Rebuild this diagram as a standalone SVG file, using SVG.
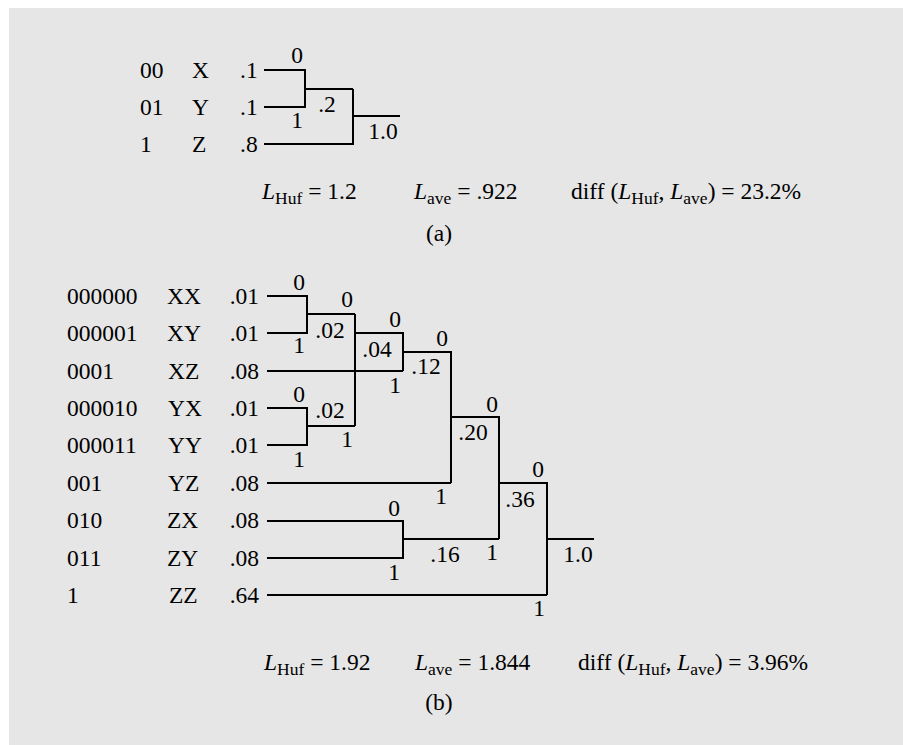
<svg xmlns="http://www.w3.org/2000/svg" width="903" height="745" viewBox="0 0 903 745">
<style>
text{font-family:"Liberation Serif","Times New Roman",serif;font-size:23.5px;fill:#000}
.m{text-anchor:middle}
.e{text-anchor:end}
.sub{font-size:17.5px}
.it{font-style:italic}
.c{fill:none;stroke:#000;stroke-width:2}
</style>
<rect x="9" y="8" width="894" height="737" fill="#e6e6e6"/>
<g id="partA">
<g id="a-leaves">
<g id="a-X"><text x="140" y="78">00</text><text x="192" y="78">X</text><text x="240" y="78">.1</text></g>
<g id="a-Y"><text x="140" y="115">01</text><text x="192" y="115">Y</text><text x="240" y="115">.1</text></g>
<g id="a-Z"><text x="140" y="152">1</text><text x="192" y="152">Z</text><text x="240" y="152">.8</text></g>
</g>
<g id="a-connectors" class="c">
<polyline points="264,70 305,70 305,107 264,107"/>
<path d="M305 89H353M264 144H353V89M353 116H400"/>
</g>
<g id="a-labels">
<text class="m" x="297" y="63">0</text>
<text class="m" x="297" y="128">1</text>
<text class="m" x="327" y="112">.2</text>
<text class="m" x="383" y="139">1.0</text>
</g>
<g id="a-eq">
<text x="262" y="199"><tspan class="it">L</tspan><tspan class="sub" dy="5">Huf</tspan><tspan dy="-5"> = 1.2</tspan></text>
<text x="414" y="199"><tspan class="it">L</tspan><tspan class="sub" dy="5">ave</tspan><tspan dy="-5"> = .922</tspan></text>
<text x="571" y="199">diff (<tspan class="it">L</tspan><tspan class="sub" dy="5">Huf</tspan><tspan dy="-5">, </tspan><tspan class="it">L</tspan><tspan class="sub" dy="5">ave</tspan><tspan dy="-5">) = 23.2%</tspan></text>
<text class="m" x="439" y="241">(a)</text>
</g>
</g>
<g id="partB">
<g id="b-leaves">
<g id="b-XX"><text x="67" y="304">000000</text><text x="167" y="304">XX</text><text class="e" x="259" y="304">.01</text></g>
<g id="b-XY"><text x="67" y="341">000001</text><text x="167" y="341">XY</text><text class="e" x="259" y="341">.01</text></g>
<g id="b-XZ"><text x="67" y="379">0001</text><text x="168" y="379">XZ</text><text class="e" x="259" y="379">.08</text></g>
<g id="b-YX"><text x="67" y="416">000010</text><text x="168" y="416">YX</text><text class="e" x="259" y="416">.01</text></g>
<g id="b-YY"><text x="67" y="453">000011</text><text x="168" y="453">YY</text><text class="e" x="259" y="453">.01</text></g>
<g id="b-YZ"><text x="67" y="491">001</text><text x="168" y="491">YZ</text><text class="e" x="259" y="491">.08</text></g>
<g id="b-ZX"><text x="67" y="528">010</text><text x="167" y="528">ZX</text><text class="e" x="259" y="528">.08</text></g>
<g id="b-ZY"><text x="67" y="566">011</text><text x="167" y="566">ZY</text><text class="e" x="259" y="566">.08</text></g>
<g id="b-ZZ"><text x="67" y="603">1</text><text x="169" y="603">ZZ</text><text class="e" x="259" y="603">.64</text></g>
</g>
<g id="b-connectors" class="c">
<polyline points="267,296 307,296 307,333 267,333"/>
<polyline points="267,408 307,408 307,445 267,445"/>
<polyline points="267,521 403,521 403,558 267,558"/>
<path d="M307 314H355M307 426H355M355 314V426M355 333H403V371M267 371H403M403 352H451V483M267 483H451M451 417H499V539M403 539H499M499 483H547V595M267 595H547M547 539H594"/>
</g>
<g id="b-labels">
<text class="m" x="299" y="290">0</text>
<text class="m" x="299" y="353">1</text>
<text class="m" x="347" y="307">0</text>
<text class="m" x="330" y="338">.02</text>
<text class="m" x="299" y="402">0</text>
<text class="m" x="330" y="418">.02</text>
<text class="m" x="299" y="467">1</text>
<text class="m" x="347" y="447">1</text>
<text class="m" x="395" y="327">0</text>
<text class="m" x="377" y="357">.04</text>
<text class="m" x="395" y="393">1</text>
<text class="m" x="426" y="374">.12</text>
<text class="m" x="442" y="346">0</text>
<text class="m" x="441" y="504">1</text>
<text class="m" x="492" y="412">0</text>
<text class="m" x="473" y="440">.20</text>
<text class="m" x="538" y="477">0</text>
<text class="m" x="520" y="507">.36</text>
<text class="m" x="394" y="516">0</text>
<text class="m" x="394" y="580">1</text>
<text class="m" x="445" y="562">.16</text>
<text class="m" x="492" y="560">1</text>
<text class="m" x="539" y="616">1</text>
<text class="m" x="578" y="562">1.0</text>
</g>
<g id="b-eq">
<text x="264" y="670"><tspan class="it">L</tspan><tspan class="sub" dy="5">Huf</tspan><tspan dy="-5"> = 1.92</tspan></text>
<text x="415" y="670"><tspan class="it">L</tspan><tspan class="sub" dy="5">ave</tspan><tspan dy="-5"> = 1.844</tspan></text>
<text x="578" y="670">diff (<tspan class="it">L</tspan><tspan class="sub" dy="5">Huf</tspan><tspan dy="-5">, </tspan><tspan class="it">L</tspan><tspan class="sub" dy="5">ave</tspan><tspan dy="-5">) = 3.96%</tspan></text>
<text class="m" x="439" y="710">(b)</text>
</g>
</g>
</svg>
